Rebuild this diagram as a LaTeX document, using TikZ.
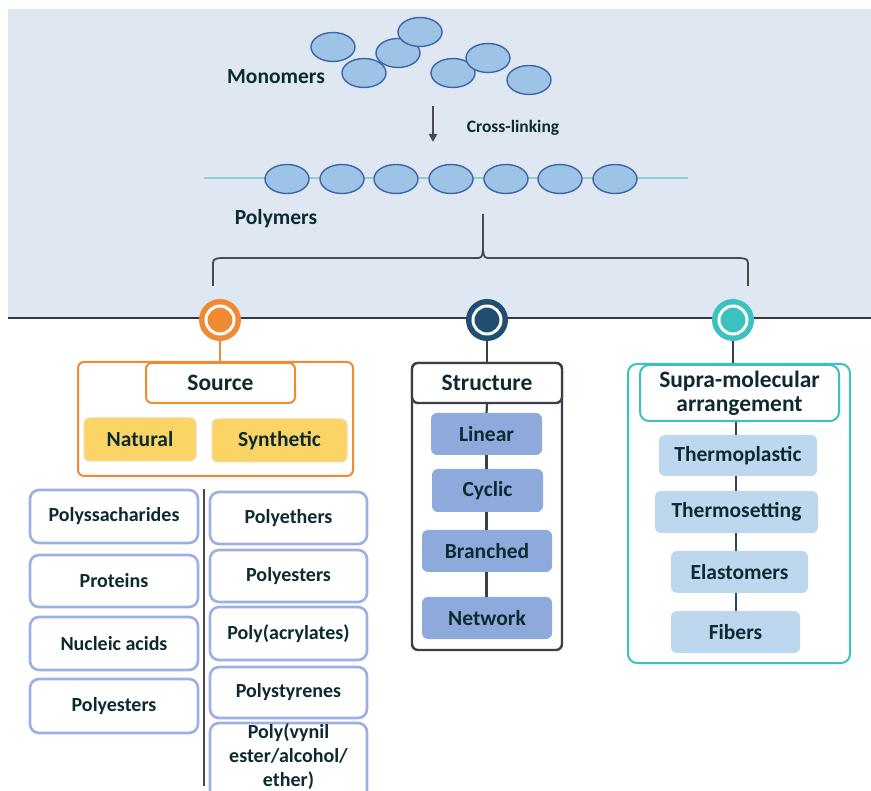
\documentclass[tikz,border=0pt]{standalone}
\usepackage{fontspec}
\setmainfont{Carlito}
\usetikzlibrary{shapes.geometric,arrows.meta}
\definecolor{panel}{HTML}{DFE8F2}
\definecolor{ellF}{HTML}{9DC3E6}
\definecolor{ellB}{HTML}{3F63A6}
\definecolor{chain}{HTML}{8FCFCF}
\definecolor{txt}{HTML}{0E2A31}
\definecolor{orng}{HTML}{F08A33}
\definecolor{natF}{HTML}{FBD466}
\definecolor{natB}{HTML}{F9D6A6}
\definecolor{dblue}{HTML}{1F4E70}
\definecolor{strB}{HTML}{3A3F48}
\definecolor{strF}{HTML}{8EA9DB}
\definecolor{teal}{HTML}{3CC2BE}
\definecolor{supF}{HTML}{BDD7EE}
\definecolor{listB}{HTML}{9DB0E4}
\definecolor{gline}{HTML}{4A4A4A}
\tikzset{
  mono/.style={ellipse, draw=ellB, fill=ellF, line width=1.4pt, minimum width=44pt, minimum height=29pt, inner sep=0pt},
  biglbl/.style={text=txt, font=\fontsize{21.5}{24}\selectfont\bfseries},
  smlbl/.style={text=txt, font=\fontsize{17.5}{20}\selectfont\bfseries},
  boxlbl/.style={text=txt, font=\fontsize{23.5}{26}\selectfont\bfseries, align=center},
  itemlbl/.style={text=txt, font=\fontsize{21.5}{24}\selectfont\bfseries, align=center},
  listlbl/.style={text=txt, font=\fontsize{20}{24}\selectfont\bfseries, align=center},
  ring/.style={circle, minimum size=42pt, inner sep=0pt},
  core/.style={circle, draw=white, line width=3pt, minimum size=28pt, inner sep=0pt},
  frame/.style={rectangle, rounded corners=6pt, line width=2pt, inner sep=0pt},
  item/.style={rectangle, rounded corners=6pt, inner sep=0pt},
  listbox/.style={rectangle, rounded corners=9pt, draw=listB, line width=2.6pt, fill=white, inner sep=0pt, listlbl},
  stem/.style={line width=2.2pt},
}
\begin{document}
\begin{tikzpicture}[x=1pt,y=-1pt]
\useasboundingbox (0,0) rectangle (871,791);
\fill[white] (0,0) rectangle (871,791);
% top panel
\fill[panel] (8,9) rectangle (871,318);
\coordinate (hl) at (8,318);
\coordinate (hr) at (871,318);
\draw[line width=2.4pt, color=strB!90!black] (hl) -- (hr);

% monomers
\node[mono] (m1) at (333,47) {};
\node[mono] (m2) at (364,73) {};
\node[mono] (m3) at (398,53) {};
\node[mono] (m4) at (420,32) {};
\node[mono] (m5) at (453,73) {};
\node[mono] (m6) at (488,58) {};
\node[mono] (m7) at (529,80) {};
\node[biglbl] (monolbl) at (276,77) {Monomers};

% arrow
\coordinate (a1) at (433,106);
\coordinate (a2) at (433,142);
\draw[line width=2pt, color=gline, -{Triangle[length=8pt,width=8pt]}] (a1) -- (a2);
\node[smlbl] (xl) at (513,128) {Cross-linking};

% polymer chain
\coordinate (cl) at (204,178);
\coordinate (cr) at (688,178);
\draw[line width=1.6pt, color=chain] (cl) -- (cr);
\foreach \i/\x in {1/287,2/342,3/396,4/451,5/506,6/560,7/615}{
  \node[mono] (p\i) at (\x,179) {};
}
\node[biglbl] (polylbl) at (276,219) {Polymers};

% brace
\coordinate (bl) at (213,286);
\coordinate (br) at (748,286);
\coordinate (bt) at (483,214);
\draw[line width=1.8pt, color=gline]
  (bl) -- (213,267) .. controls (213,259) .. (221,258) -- (475,258)
  .. controls (482,258) .. (483,249) -- (bt);
\draw[line width=1.8pt, color=gline]
  (483,249) .. controls (484,258) .. (491,258) -- (740,258)
  .. controls (748,259) .. (748,267) -- (br);

% circles
\node[ring, fill=orng] (c1) at (220,320) {};
\node[core, fill=orng] at (c1) {};
\node[ring, fill=dblue] (c2) at (487,320) {};
\node[core, fill=dblue] at (c2) {};
\node[ring, fill=teal] (c3) at (733,320) {};
\node[core, fill=teal] at (c3) {};

% SOURCE
\node[frame, draw=orng, minimum width=275pt, minimum height=114pt] (srcF) at (215.5,419) {};
\draw[stem, color=orng] (c1.south) -- (srcF.north -| c1);
\node[frame, draw=orng, fill=white, minimum width=149pt, minimum height=40pt, boxlbl] (src) at (220.5,383) {Source};
\node[item, fill=natF, draw=natB, line width=1pt, minimum width=112pt, minimum height=43pt, itemlbl] (nat) at (140,439.5) {Natural};
\node[item, fill=natF, draw=natB, line width=1pt, minimum width=135pt, minimum height=43pt, itemlbl] (syn) at (279.5,440.5) {Synthetic};

% lists
\node[listbox, minimum width=168pt, minimum height=53pt] (l1) at (114,516.5) {Polyssacharides};
\node[listbox, minimum width=168pt, minimum height=52pt] (l2) at (114,581) {Proteins};
\node[listbox, minimum width=168pt, minimum height=53pt] (l3) at (114,643.5) {Nucleic acids};
\node[listbox, minimum width=168pt, minimum height=54pt] (l4) at (114,706) {Polyesters};
\coordinate (dv1) at (204,489);
\coordinate (dv2) at (204,786);
\draw[line width=2.6pt, color=gline] (dv1) -- (dv2);
\node[listbox, minimum width=157pt, minimum height=52pt] (r1) at (288.5,518) {Polyethers};
\node[listbox, minimum width=157pt, minimum height=52pt] (r2) at (288.5,576) {Polyesters};
\node[listbox, minimum width=157pt, minimum height=53pt] (r3) at (288.5,633.5) {Poly(acrylates)};
\node[listbox, minimum width=157pt, minimum height=51pt] (r4) at (288.5,692.5) {Polystyrenes};
\node[listbox, minimum width=157pt, minimum height=90pt] (r5) at (288.5,768) {};
\node[listlbl, align=center] (r5t) at (288.5,757) {Poly(vynil\\ester/alcohol/\\ether)};

% STRUCTURE
\node[frame, draw=strB, line width=2.4pt, minimum width=150pt, minimum height=287pt] (strF) at (487,506.5) {};
\draw[stem, color=strB] (c2.south) -- (strF.north);
\node[frame, draw=strB, line width=2.4pt, fill=white, minimum width=150pt, minimum height=40pt, boxlbl] (str) at (487,383) {Structure};
\node[item, fill=strF, minimum width=111pt, minimum height=42pt, itemlbl] (lin) at (486.5,434) {Linear};
\node[item, fill=strF, minimum width=111pt, minimum height=43pt, itemlbl] (cyc) at (487.5,490.5) {Cyclic};
\node[item, fill=strF, minimum width=130pt, minimum height=42pt, itemlbl] (bra) at (487,551) {Branched};
\node[item, fill=strF, minimum width=130pt, minimum height=42pt, itemlbl] (net) at (487,618) {Network};
\draw[stem, color=strB] (str.south) -- (lin.north);
\draw[stem, color=strB] (lin.south) -- (cyc.north -| lin);
\draw[stem, color=strB] (cyc.south -| lin) -- (bra.north -| lin);
\draw[stem, color=strB] (bra.south -| lin) -- (net.north -| lin);

% SUPRA
\node[frame, draw=teal, rounded corners=9pt, minimum width=222pt, minimum height=299pt] (supF) at (739,513.5) {};
\draw[stem, color=strB] (c3.south) -- (supF.north -| c3);
\node[frame, draw=teal, rounded corners=9pt, fill=white, minimum width=199pt, minimum height=56pt, boxlbl] (sup) at (739.5,393) {Supra-molecular\\[-2pt]arrangement};
\node[item, fill=supF, minimum width=158pt, minimum height=41pt, itemlbl] (tp) at (738,455.5) {Thermoplastic};
\node[item, fill=supF, minimum width=163pt, minimum height=42pt, itemlbl] (ts) at (736.5,512) {Thermosetting};
\node[item, fill=supF, minimum width=137pt, minimum height=42pt, itemlbl] (el) at (739.5,572) {Elastomers};
\node[item, fill=supF, minimum width=129pt, minimum height=42pt, itemlbl] (fi) at (735.5,632) {Fibers};
\coordinate (sx) at (736,0);
\draw[stem, color=dblue] (sup.south -| sx) -- (tp.north -| sx);
\draw[stem, color=dblue] (tp.south -| sx) -- (ts.north -| sx);
\draw[stem, color=dblue] (ts.south -| sx) -- (el.north -| sx);
\draw[stem, color=dblue] (el.south -| sx) -- (fi.north -| sx);
\end{tikzpicture}
\end{document}
